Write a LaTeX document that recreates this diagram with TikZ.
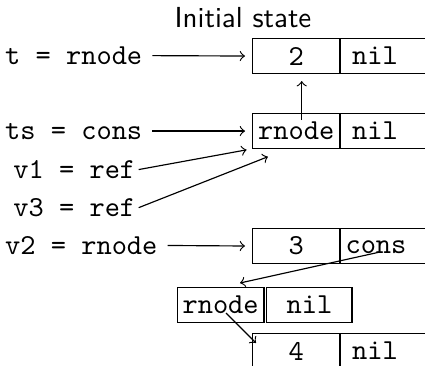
\documentclass[tikz,border=0pt]{standalone}
\begin{document}
\begin{tikzpicture}[x=0.345pt,y=-0.345pt,
  cell/.style={draw, rectangle, inner sep=0pt, minimum width=29.9pt, minimum height=11.85pt, font=\ttfamily},
  cellwide/.style={draw, rectangle, inner sep=0pt, minimum width=31pt, minimum height=11.85pt},
  lbl/.style={font=\ttfamily, anchor=base west},
  lblv/.style={font=\ttfamily, anchor=base west, inner sep=1pt},
  txt/.style={font=\ttfamily, anchor=base, inner sep=0pt},
  conn/.style={->, line width=0.4pt}
]
\useasboundingbox (0,0) rectangle (425,366);

\node[font=\sffamily, anchor=base, inner sep=0pt] (title) at (243,27.5) {Initial state};

% boxes
\node[cell, anchor=north west] (b1a) at (252.3,38.3) {2};
\node[cellwide, anchor=north west] (b1b) at (b1a.north east) {};
\node[txt] (n1) at (375,64.4) {nil};

\node[cell, anchor=north west] (b2a) at (252.3,113.3) {rnode};
\node[cellwide, anchor=north west] (b2b) at (b2a.north east) {};
\node[txt] (n2) at (375,139.5) {nil};

\node[cell, anchor=north west] (b3a) at (252.3,228.3) {3};
\node[cellwide, anchor=north west] (b3b) at (b3a.north east) {};
\node[txt] (c3) at (376,253.5) {cons};

\node[cell, anchor=north west] (b5a) at (176.7,287.3) {rnode};
\node[cell, anchor=north west, minimum width=29.4pt] (b5b) at ([xshift=0.6pt]b5a.north east) {nil};

\node[cell, anchor=north west] (b4a) at (252.3,333.3) {4};
\node[cellwide, anchor=north west] (b4b) at (b4a.north east) {};
\node[txt] (n4) at (375,359.5) {nil};

% labels
\node[lbl] (tl) at (-5,64.4) {t = rnode};
\node[lbl] (tsl) at (-5,139.5) {ts = cons};
\node[lblv] (v1l) at (10,178.5) {v1 = ref};
\node[lblv] (v3l) at (10,216.5) {v3 = ref};
\node[lbl] (v2l) at (-5,254.4) {v2 = rnode};

% free ends
\coordinate (upS) at (301.7,120);
\coordinate (v3E) at (268,156.7);
\coordinate (cS) at (380,252);
\coordinate (cE) at (240,283);
\coordinate (rS) at (226,313);
\coordinate (rE) at (256,343);

% connectors
\draw[conn, shorten >=2.5pt] (tl.east) -- (b1a.west);
\draw[conn, shorten >=2.5pt] (tsl.east |- b2a.west) -- (b2a.west);
\draw[conn, shorten >=2.5pt] (v2l.east) -- (b3a.west);
\draw[conn, shorten >=2pt] (v1l.east) -- (b2a.south west);
\draw[conn] (v3l.east) -- (v3E);
\draw[conn, shorten >=2.5pt] (upS) -- (upS |- b1a.south);
\draw[conn] (cS) -- (cE);
\draw[conn] (rS) -- (rE);
\end{tikzpicture}
\end{document}
